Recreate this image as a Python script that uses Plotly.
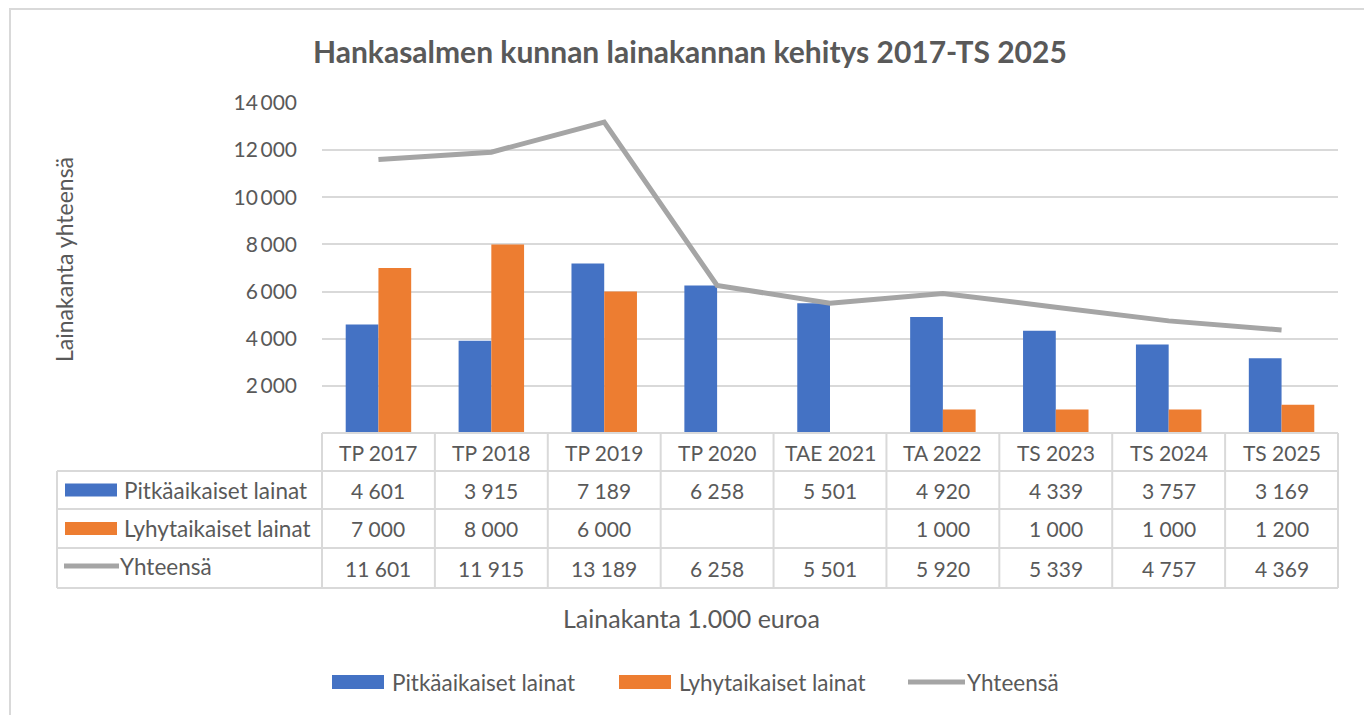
import plotly.graph_objects as go

# ---- data ----
categories = ["TP 2017", "TP 2018", "TP 2019", "TP 2020", "TAE 2021",
              "TA 2022", "TS 2023", "TS 2024", "TS 2025"]
pitkaaikaiset = [4601, 3915, 7189, 6258, 5501, 4920, 4339, 3757, 3169]
lyhytaikaiset = [7000, 8000, 6000, None, None, 1000, 1000, 1000, 1200]
yhteensa = [11601, 11915, 13189, 6258, 5501, 5920, 5339, 4757, 4369]
series_names = ["Pitkäaikaiset lainat", "Lyhytaikaiset lainat", "Yhteensä"]
y_ticks = [2000, 4000, 6000, 8000, 10000, 12000, 14000]

title_text = "Hankasalmen kunnan lainakannan kehitys 2017-TS 2025"
y_title = "Lainakanta yhteensä"
x_title = "Lainakanta 1.000 euroa"

BLUE = "#4472C4"
ORANGE = "#ED7D31"
GRAY = "#A5A5A5"
TXT = "#595959"
GRID = "#D9D9D9"
FONT = "Lato"

OFF = 8                      # page body margin offset
W, H = 1372 - OFF, 715 - OFF
L, R, T, B = 322, 1338, 103, 433   # plot area in page pixels


def px(x):
    return (x - L) / (R - L)


def py(y):
    return (B - y) / (B - T)


def fmt(v, sep=" "):
    if v is None:
        return ""
    return f"{v:,}".replace(",", sep)


fig = go.Figure()
fig.add_trace(go.Bar(x=categories, y=pitkaaikaiset, name=series_names[0],
                     marker=dict(color=BLUE, line=dict(width=0))))
fig.add_trace(go.Bar(x=categories, y=lyhytaikaiset, name=series_names[1],
                     marker=dict(color=ORANGE, line=dict(width=0))))
fig.add_trace(go.Scatter(x=categories, y=yhteensa, name=series_names[2],
                         mode="lines", line=dict(color=GRAY, width=5)))

shapes = []
annotations = []

# outer frame
shapes.append(dict(type="rect", xref="paper", yref="paper",
                   x0=px(10), x1=px(1369), y0=py(740), y1=py(9),
                   line=dict(color=GRID, width=2), fillcolor="rgba(0,0,0,0)",
                   layer="below"))

# data table
row_y = [433, 471, 509, 548, 588]
col_x = [L + (R - L) * i / len(categories) for i in range(len(categories) + 1)]
tbl_left = 57
line_style = dict(color=GRID, width=2)
shapes.append(dict(type="line", xref="paper", yref="paper",
                   x0=px(L), x1=px(R), y0=py(row_y[0]), y1=py(row_y[0]), line=line_style))
for yy in row_y[1:]:
    shapes.append(dict(type="line", xref="paper", yref="paper",
                       x0=px(tbl_left), x1=px(R), y0=py(yy), y1=py(yy), line=line_style))
shapes.append(dict(type="line", xref="paper", yref="paper",
                   x0=px(tbl_left), x1=px(tbl_left), y0=py(row_y[1]), y1=py(row_y[-1]),
                   line=line_style))
for xx in col_x:
    shapes.append(dict(type="line", xref="paper", yref="paper",
                       x0=px(xx), x1=px(xx), y0=py(row_y[0]), y1=py(row_y[-1]),
                       line=line_style))

cell_font = dict(family=FONT, size=21, color=TXT)
label_font = dict(family=FONT, size=22.5, color=TXT)
row_centers = [(row_y[i] + row_y[i + 1]) / 2 for i in range(4)]
rows = [pitkaaikaiset, lyhytaikaiset, yhteensa]
for i, cat in enumerate(categories):
    cx = (col_x[i] + col_x[i + 1]) / 2
    annotations.append(dict(x=px(cx), y=py(row_centers[0]), xref="paper", yref="paper",
                            text=cat, showarrow=False, font=cell_font,
                            xanchor="center", yanchor="middle"))
    for r, vals in enumerate(rows):
        annotations.append(dict(x=px(cx), y=py(row_centers[r + 1]), xref="paper",
                                yref="paper", text=fmt(vals[i]), showarrow=False,
                                font=cell_font, xanchor="center", yanchor="middle"))

# legend keys inside table
for r, (name, col) in enumerate(zip(series_names, [BLUE, ORANGE, GRAY])):
    cy = row_centers[r + 1]
    if r < 2:
        shapes.append(dict(type="rect", xref="paper", yref="paper",
                           x0=px(65), x1=px(117), y0=py(cy - 6.5), y1=py(cy + 6.5),
                           fillcolor=col, line=dict(width=0)))
        tx = 122
    else:
        cy -= 2
        shapes.append(dict(type="line", xref="paper", yref="paper",
                           x0=px(64), x1=px(119), y0=py(cy), y1=py(cy),
                           line=dict(color=col, width=5)))
        tx = 118
    annotations.append(dict(x=px(tx), y=py(cy), xref="paper", yref="paper",
                            text=name, showarrow=False, font=label_font,
                            xanchor="left", yanchor="middle"))

# axis titles & chart title
annotations.append(dict(x=px(690), y=py(51), xref="paper", yref="paper",
                        text=f"<b>{title_text}</b>", showarrow=False,
                        font=dict(family=FONT, size=30, color=TXT),
                        xanchor="center", yanchor="middle"))
annotations.append(dict(x=px(64), y=py(260), xref="paper", yref="paper",
                        text=y_title, showarrow=False, textangle=-90,
                        font=dict(family=FONT, size=23, color=TXT),
                        xanchor="center", yanchor="middle"))
annotations.append(dict(x=px(691), y=py(618), xref="paper", yref="paper",
                        text=x_title, showarrow=False,
                        font=dict(family=FONT, size=25, color=TXT),
                        xanchor="center", yanchor="middle"))

# bottom legend
leg_y = 682
leg_items = [(332, BLUE, "bar"), (619, ORANGE, "bar"), (908, GRAY, "line")]
for (lx, col, kind), name in zip(leg_items, series_names):
    if kind == "bar":
        shapes.append(dict(type="rect", xref="paper", yref="paper",
                           x0=px(lx), x1=px(lx + 52), y0=py(leg_y - 7), y1=py(leg_y + 7),
                           fillcolor=col, line=dict(width=0)))
        tx = lx + 58
    else:
        shapes.append(dict(type="line", xref="paper", yref="paper",
                           x0=px(lx), x1=px(lx + 57), y0=py(leg_y), y1=py(leg_y),
                           line=dict(color=col, width=5)))
        tx = lx + 57
    annotations.append(dict(x=px(tx), y=py(leg_y), xref="paper", yref="paper",
                            text=name, showarrow=False, font=label_font,
                            xanchor="left", yanchor="middle"))

fig.update_layout(
    width=W, height=H,
    margin=dict(l=L - OFF, r=W - (R - OFF), t=T - OFF, b=H - (B - OFF), pad=0),
    paper_bgcolor="white", plot_bgcolor="white",
    barmode="group", bargap=0.42, bargroupgap=0,
    showlegend=False,
    font=dict(family=FONT, color=TXT),
    shapes=shapes, annotations=annotations,
    xaxis=dict(range=[-0.5, len(categories) - 0.5], showticklabels=False,
               showgrid=False, zeroline=False, showline=False, ticks=""),
    yaxis=dict(range=[0, 14000], tickvals=y_ticks,
               ticktext=[fmt(v, "\u2009") for v in y_ticks],
               showgrid=True, gridcolor=GRID, gridwidth=1.5, zeroline=False,
               showline=False, ticks="", ticklabelstandoff=24,
               tickfont=dict(family=FONT, size=21, color=TXT)),
)

fig.write_html("out.html")
